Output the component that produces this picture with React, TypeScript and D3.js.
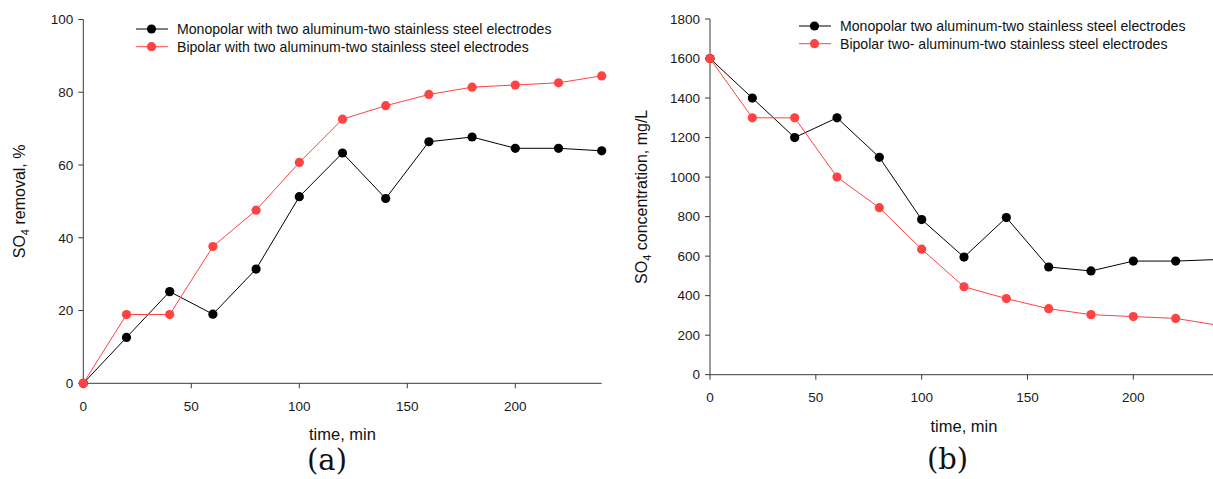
import React from "react";
import * as d3 from "d3";

const times = [0, 20, 40, 60, 80, 100, 120, 140, 160, 180, 200, 220, 240];
const removalMono = [0, 12.6, 25.2, 19.0, 31.4, 51.3, 63.3, 50.8, 66.4, 67.7, 64.6, 64.6, 63.9];
const removalBi = [0, 18.9, 18.9, 37.6, 47.6, 60.7, 72.6, 76.3, 79.4, 81.4, 82.0, 82.6, 84.5];
const concMono = [1600, 1400, 1200, 1300, 1100, 785, 595, 795, 545, 525, 575, 575, 583];
const concBi = [1600, 1300, 1300, 1000, 845, 635, 445, 385, 334, 304, 294, 285, 250];

const xTicks = [0, 50, 100, 150, 200];
const removalTicks = [0, 20, 40, 60, 80, 100];
const concTicks = [0, 200, 400, 600, 800, 1000, 1200, 1400, 1600, 1800];

const legendA = [
  "Monopolar with two aluminum-two stainless steel electrodes",
  "Bipolar with two aluminum-two stainless steel electrodes",
];
const legendB = [
  "Monopolar two aluminum-two stainless steel electrodes",
  "Bipolar two- aluminum-two stainless steel electrodes",
];

const BLACK = "#000000";
const RED = "#ff4242";
const AXIS = "#3a3a3a";
const FONT = "'Liberation Sans', Arial, Helvetica, sans-serif";

type PanelProps = {
  xRange: [number, number];
  yRange: [number, number];
  yMax: number;
  yTicks: number[];
  mono: number[];
  bi: number[];
  legend: string[];
  legendX: number;
  legendY: number;
  yLabel: string;
  yLabelX: number;
  letter: string;
  letterX: number;
  letterY: number;
};

function Panel(p: PanelProps) {
  const x = d3.scaleLinear().domain([0, 240]).range(p.xRange);
  const y = d3.scaleLinear().domain([0, p.yMax]).range(p.yRange);
  const line = d3
    .line<number>()
    .x((_, i) => x(times[i]))
    .y((d) => y(d));
  const x0 = p.xRange[0];
  const y0 = p.yRange[0];
  const series = [
    { vals: p.mono, color: BLACK },
    { vals: p.bi, color: RED },
  ];
  const axisMid = (p.xRange[0] + p.xRange[1]) / 2;
  const yMid = (p.yRange[0] + p.yRange[1]) / 2;
  return (
    <g fontFamily={FONT}>
      <line x1={x0} x2={p.xRange[1]} y1={y0} y2={y0} stroke={AXIS} strokeWidth={1} />
      <line x1={x0} x2={x0} y1={y0 + 0.5} y2={p.yRange[1]} stroke={AXIS} strokeWidth={1} />
      {p.yTicks.map((t) => (
        <g key={"y" + t}>
          <line x1={x0 - 5} x2={x0} y1={y(t)} y2={y(t)} stroke={AXIS} strokeWidth={1} />
          <text x={x0 - 10} y={y(t)} dy="0.35em" textAnchor="end" fontSize={13.5} fill="#1a1a1a">
            {t}
          </text>
        </g>
      ))}
      {xTicks.map((t) => (
        <g key={"x" + t}>
          <line x1={x(t)} x2={x(t)} y1={y0} y2={y0 + 5} stroke={AXIS} strokeWidth={1} />
          <text x={x(t)} y={y0 + 27.5} textAnchor="middle" fontSize={13.5} fill="#1a1a1a">
            {t}
          </text>
        </g>
      ))}
      {series.map((s, si) => (
        <g key={"s" + si}>
          <path d={line(s.vals) || ""} fill="none" stroke={s.color} strokeWidth={1} />
          {s.vals.map((v, i) => (
            <circle key={i} cx={x(times[i])} cy={y(v)} r={4.6} fill={s.color} />
          ))}
        </g>
      ))}
      {series.map((s, si) => {
        const ly = p.legendY + si * 17.7;
        return (
          <g key={"l" + si}>
            <line x1={p.legendX} x2={p.legendX + 32} y1={ly} y2={ly} stroke={s.color} strokeWidth={1} />
            <circle cx={p.legendX + 15.5} cy={ly} r={4.6} fill={s.color} />
            <text x={p.legendX + 41} y={ly} dy="0.35em" fontSize={14.1} fill="#111">
              {p.legend[si]}
            </text>
          </g>
        );
      })}
      <text x={axisMid} y={y0 + 57} textAnchor="middle" fontSize={16.5} fill="#111">
        time, min
      </text>
      <text
        transform={`translate(${p.yLabelX},${yMid}) rotate(-90)`}
        textAnchor="middle"
        fontSize={16}
        fill="#111"
      >
        SO
        <tspan fontSize={11} dy={4}>
          4
        </tspan>
        <tspan dy={-4}>{" " + p.yLabel}</tspan>
      </text>
      <text
        x={p.letterX}
        y={p.letterY}
        textAnchor="middle"
        fontSize={29}
        fontFamily="'DejaVu Serif', 'Liberation Serif', serif"
        fill="#111"
      >
        {p.letter}
      </text>
    </g>
  );
}

export default function App() {
  return (
    <svg
      width={1213}
      height={479}
      style={{ position: "absolute", left: 0, top: 0, background: "#fff" }}
    >
      <rect width={1213} height={479} fill="#fff" />
      <Panel
        xRange={[83.3, 601.7]}
        yRange={[383.3, 19.5]}
        yMax={100}
        yTicks={removalTicks}
        mono={removalMono}
        bi={removalBi}
        legend={legendA}
        legendX={136}
        legendY={29}
        yLabel="removal, %"
        yLabelX={25}
        letter="(a)"
        letterX={327}
        letterY={470}
      />
      <Panel
        xRange={[710, 1218]}
        yRange={[374.7, 19]}
        yMax={1800}
        yTicks={concTicks}
        mono={concMono}
        bi={concBi}
        legend={legendB}
        legendX={799}
        legendY={26}
        yLabel="concentration, mg/L"
        yLabelX={647}
        letter="(b)"
        letterX={947.5}
        letterY={469}
      />
    </svg>
  );
}
